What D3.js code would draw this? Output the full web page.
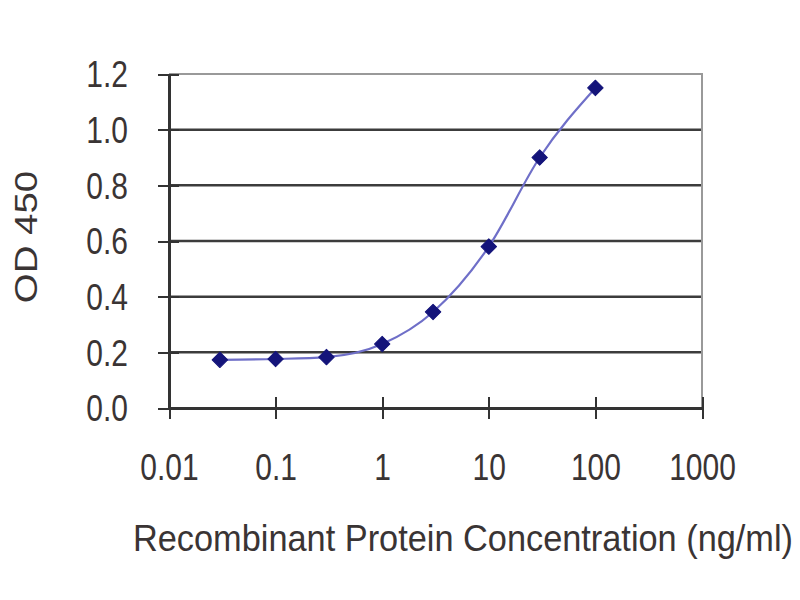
<!DOCTYPE html>
<html>
<head>
<meta charset="utf-8">
<script src="https://cdn.jsdelivr.net/npm/d3@7"></script>
<style>
  body { margin: 0; background: #fff; }
  svg { display: block; }
</style>
</head>
<body>
<svg id="chart" width="800" height="600"></svg>
<script>
// concentration (ng/ml) and measured OD 450
const concentrations = [0.03, 0.1, 0.3, 1, 3, 10, 30, 100];
const odValues = [0.173, 0.176, 0.183, 0.23, 0.345, 0.58, 0.90, 1.15];
const xTicks = [0.01, 0.1, 1, 10, 100, 1000];
const yTicks = [0, 0.2, 0.4, 0.6, 0.8, 1.0, 1.2];
const xTitle = "Recombinant Protein Concentration  (ng/ml)";
const yTitle = "OD 450";

const margin = { top: 74, right: 98, bottom: 192, left: 169 };
const width = 800 - margin.left - margin.right;
const height = 600 - margin.top - margin.bottom;
const font = "'Liberation Sans', Arial, sans-serif";
const textColor = "#3a3434";

const svg = d3.select("#chart");
const g = svg.append("g").attr("transform", `translate(${margin.left},${margin.top})`);

const x = d3.scaleLog().domain([0.01, 1000]).range([0, width]);
const y = d3.scaleLinear().domain([0, 1.2]).range([height, 0]);

// gridlines
g.selectAll(".grid")
  .data(yTicks.filter(d => d > 0 && d < 1.2))
  .enter()
  .append("line")
  .attr("class", "grid")
  .attr("x1", 0)
  .attr("x2", width)
  .attr("y1", d => y(d))
  .attr("y2", d => y(d))
  .attr("stroke", "#3c3c3c")
  .attr("stroke-width", 2.5);

// plot border top / right
g.append("path")
  .attr("d", `M0,${y(1.2)}H${width}V${height}`)
  .attr("fill", "none")
  .attr("stroke", "#999")
  .attr("stroke-width", 2);

// x axis
const xAxis = g.append("g")
  .attr("transform", `translate(0,${height})`)
  .call(d3.axisBottom(x).tickValues(xTicks).tickFormat(d3.format("~g")).tickSize(11).tickSizeOuter(0));
xAxis.select(".domain").attr("stroke", "#333").attr("stroke-width", 2.5);
xAxis.selectAll(".tick line").attr("y1", -11).attr("stroke", "#333").attr("stroke-width", 2);
xAxis.selectAll(".tick text")
  .attr("y", null)
  .attr("dy", null)
  .attr("transform", "translate(0,72) scale(1,1.2)")
  .attr("font-family", font)
  .attr("font-size", 30)
  .attr("fill", textColor);

// y axis
const yAxis = g.append("g")
  .call(d3.axisLeft(y).tickValues(yTicks).tickFormat(d3.format(".1f")).tickSize(11).tickSizeOuter(0));
yAxis.select(".domain").attr("stroke", "#333").attr("stroke-width", 2.5);
yAxis.selectAll(".tick line").attr("x1", 10).attr("stroke", "#333").attr("stroke-width", 2);
yAxis.selectAll(".tick text")
  .attr("x", null)
  .attr("dy", "0.36em")
  .attr("transform", "translate(-41,0) scale(1,1.2)")
  .attr("font-family", font)
  .attr("font-size", 30)
  .attr("fill", textColor);

svg.selectAll(".domain, .tick line").attr("shape-rendering", "crispEdges");

// fitted curve
const data = concentrations.map((c, i) => ({ c, od: odValues[i] }));
const line = d3.line()
  .x(d => x(d.c))
  .y(d => y(d.od))
  .curve(d3.curveMonotoneX);

g.append("path")
  .datum(data)
  .attr("d", line)
  .attr("fill", "none")
  .attr("stroke", "#6f6fc8")
  .attr("stroke-width", 2.2);

// markers
g.selectAll(".pt")
  .data(data)
  .enter()
  .append("path")
  .attr("class", "pt")
  .attr("d", d3.symbol().type(d3.symbolSquare).size(120))
  .attr("transform", d => `translate(${x(d.c)},${y(d.od)}) rotate(45)`)
  .attr("fill", "#14147a")
  .attr("stroke", "#14147a")
  .attr("stroke-width", 1)
  .attr("stroke-linejoin", "round");

// axis titles
svg.append("text")
  .attr("transform", "translate(133,551) scale(1,1.12)")
  .attr("font-family", font)
  .attr("font-size", 33)
  .attr("fill", textColor)
  .attr("textLength", 660)
  .attr("lengthAdjust", "spacingAndGlyphs")
  .text(xTitle);

svg.append("text")
  .attr("transform", "translate(25,237) rotate(-90) scale(1.2,1)")
  .attr("text-anchor", "middle")
  .attr("dy", "0.36em")
  .attr("font-family", font)
  .attr("font-size", 32)
  .attr("fill", textColor)
  .text(yTitle);
</script>
</body>
</html>
